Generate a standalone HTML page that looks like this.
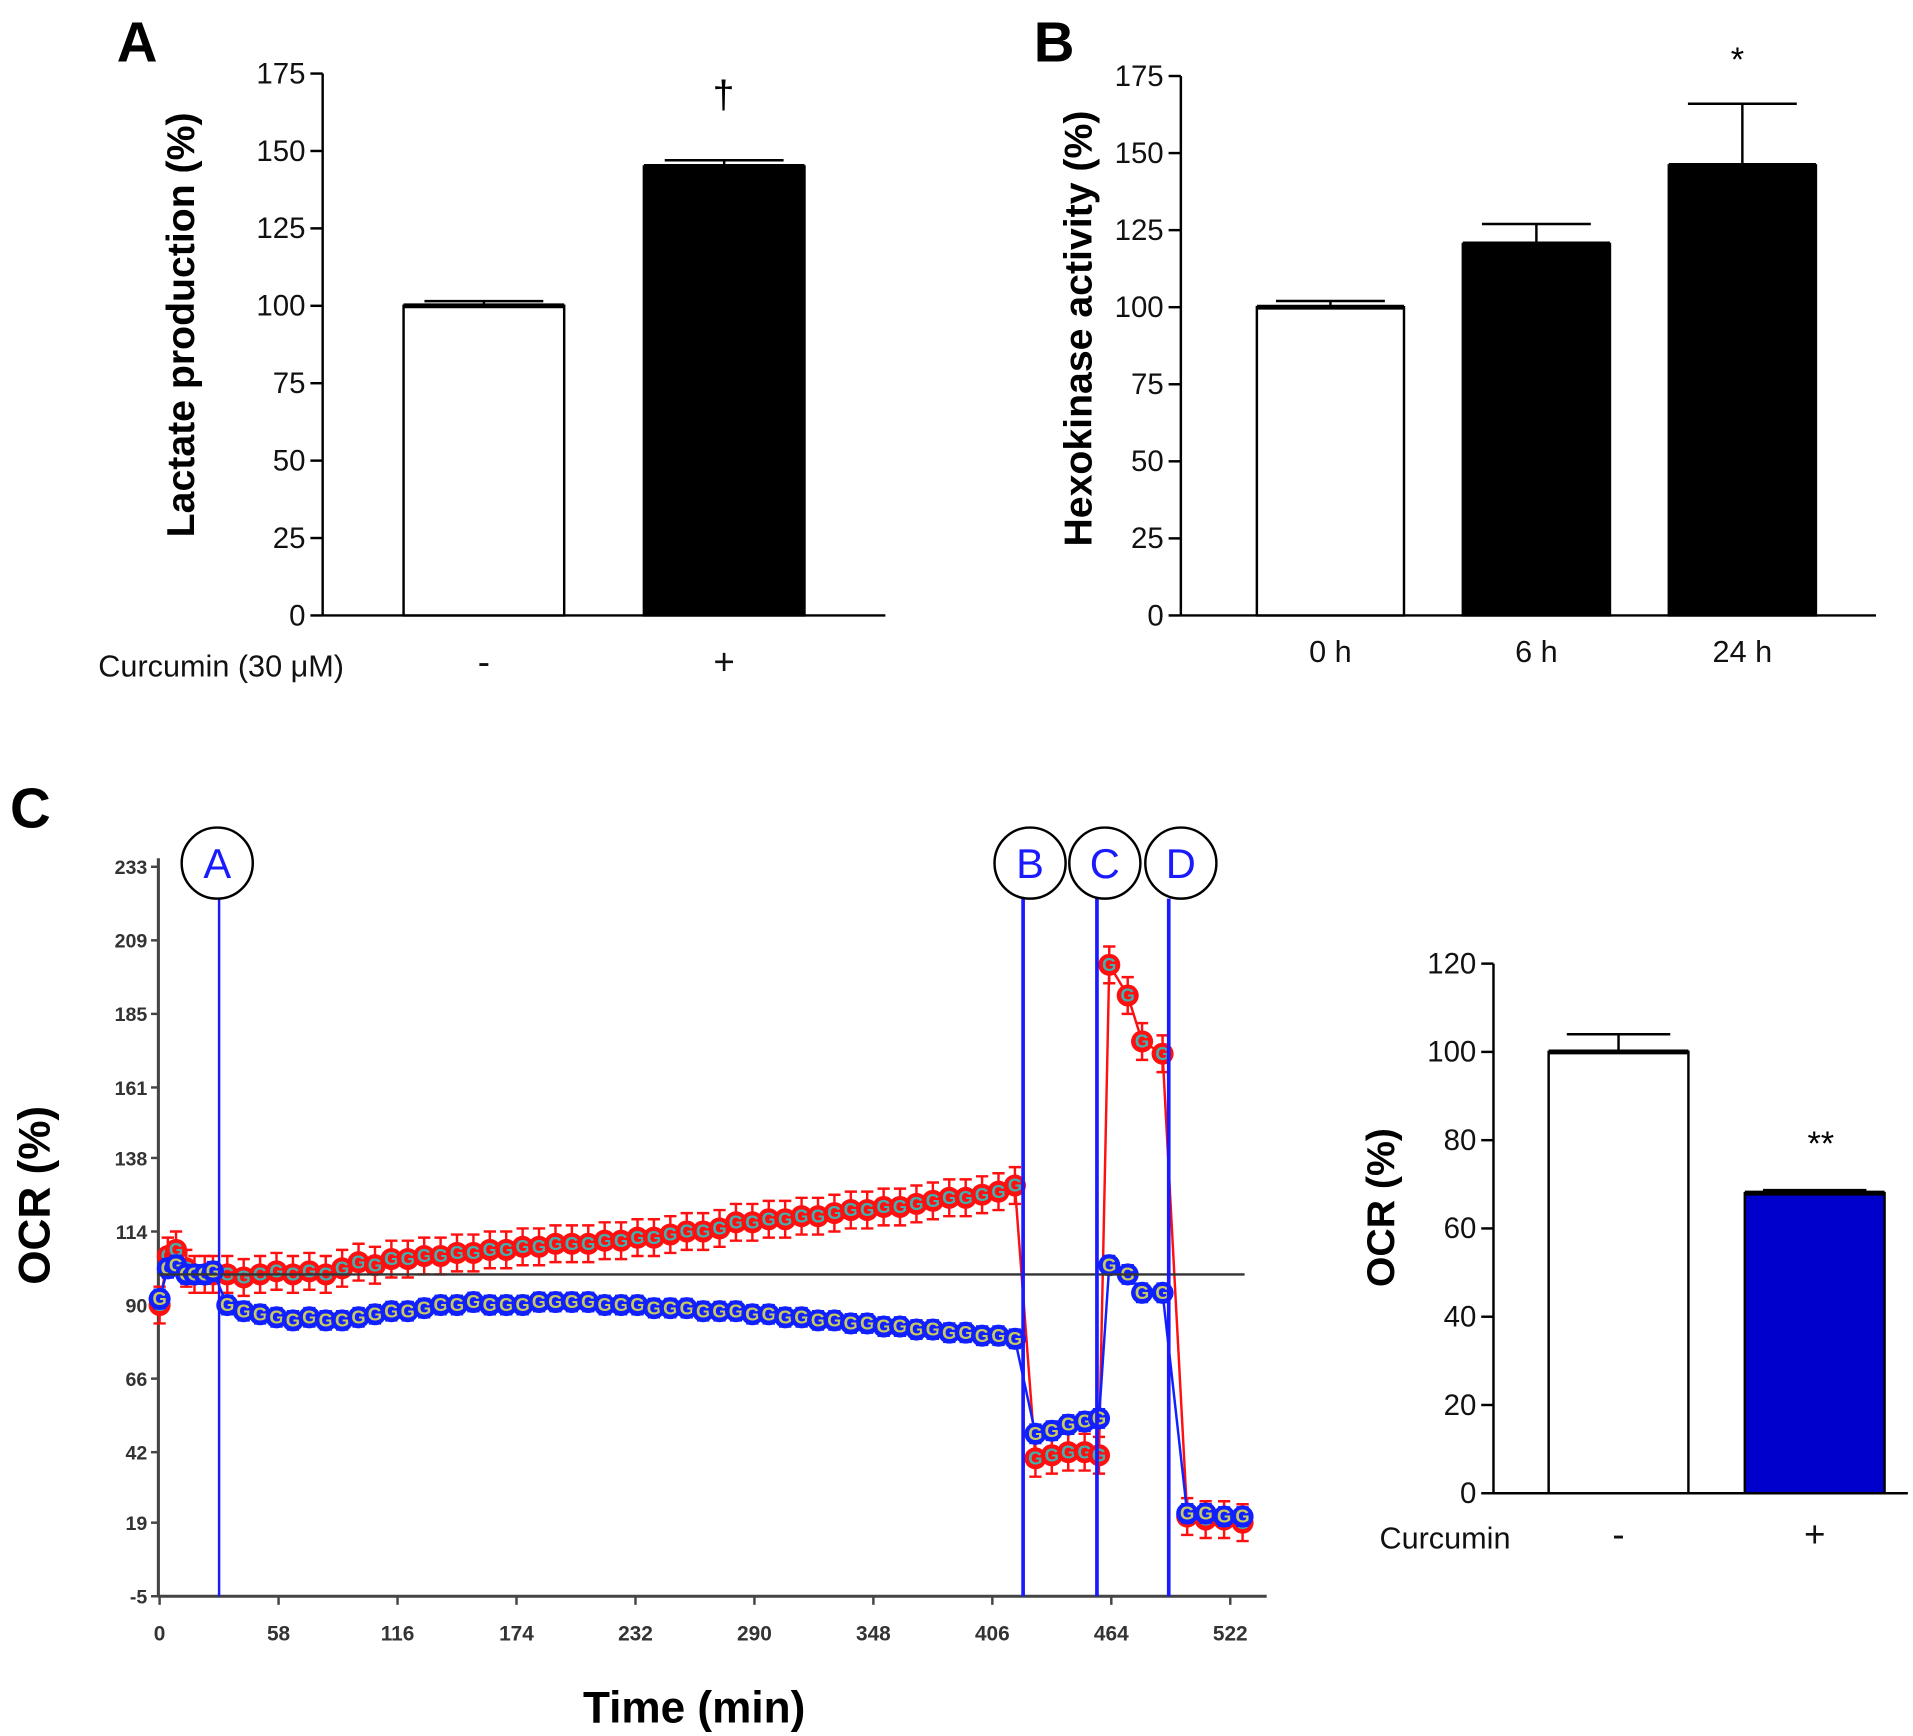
<!DOCTYPE html>
<html><head><meta charset="utf-8"><style>
html,body{margin:0;padding:0;background:#fff;}
svg{display:block;font-family:"Liberation Sans",sans-serif;}
</style></head><body>
<svg id="fig" width="1913" height="1736" viewBox="0 0 1560 1416" xmlns="http://www.w3.org/2000/svg">
<g id="pa"></g>
<g id="pb"></g>
<g id="pc"></g>
<g id="pd"></g>
</svg>
<script>
// Panel A
const aCats = ["-", "+"];
const aVals = [100, 145];
const aErr = [1.5, 2];
const aTicks = [0,25,50,75,100,125,150,175];
// Panel B
const bCats = ["0 h", "6 h", "24 h"];
const bVals = [100, 120.5, 146];
const bErr = [2, 6.5, 20];
const bTicks = [0,25,50,75,100,125,150,175];
// Panel C time course
const cTicksY = [-5,19,42,66,90,114,138,161,185,209,233];
const cTicksX = [0,58,116,174,232,290,348,406,464,522];
const cTime = [0,4,8,13,17,22,26,33,41,49,57,65,73,81,89,97,105,113,121,129,137,145,153,161,169,177,185,193,201,209,217,225,233,241,249,257,265,273,281,289,297,305,313,321,329,337,345,353,361,369,377,385,393,401,409,417,427,435,443,451,458,463,472,479,489,501,510,519,528];
const cRed = [90,106,108,102,100,100,100,100,99,100,101,100,101,100,102,104,103,105,105,106,106,107,107,108,108,109,109,110,110,110,111,111,112,112,113,114,114,115,117,117,118,118,119,119,120,121,121,122,122,123,124,125,125,126,127,129,40,41,42,42,41,201,191,176,172,21,20,20,19];
const cBlue = [92,102,103,100,100,100,101,90,88,87,86,85,86,85,85,86,87,88,88,89,90,90,91,90,90,90,91,91,91,91,90,90,90,89,89,89,88,88,88,87,87,86,86,85,85,84,84,83,83,82,82,81,81,80,80,79,48,49,51,52,53,103,100,94,94,22,22,21,21];
const cInjT = [29,421,457,492];
const cInjL = ["A","B","C","D"];
// Panel C bar
const dCats = ["-", "+"];
const dVals = [100, 68];
const dErr = [4, 0.7];
const dTicks = [0,20,40,60,80,100,120];

const NS="http://www.w3.org/2000/svg";
function mk(parent,tag,attrs,text){const e=document.createElementNS(NS,tag);for(const k in attrs)e.setAttribute(k,attrs[k]);if(text!==undefined)e.textContent=text;parent.appendChild(e);return e;}

function barPanel(g,o){
  const y=v=>o.y0-(v-0)*(o.y0-o.yTop)/o.vmax;
  let ax=mk(g,'line',{x1:o.ax,y1:o.yTop,x2:o.ax,y2:o.y0,stroke:'#000','stroke-width':2});
  
  
  let xx=mk(g,'line',{x1:o.ax,y1:o.y0,x2:o.axEnd,y2:o.y0,stroke:'#000','stroke-width':2});
  
  
  o.ticks.forEach(t=>{
    let l=mk(g,'line',{x1:o.ax-10,y1:y(t),x2:o.ax,y2:y(t),stroke:'#000','stroke-width':2});
    
    
    let tx=mk(g,'text',{x:o.ax-14,y:y(t)+8,'text-anchor':'end','font-size':o.fs,fill:'#111'},t);
    
    
  });
  o.vals.forEach((v,i)=>{
    const x0=o.barX[i];
    const cx=x0+o.bw/2;
    let e=mk(g,'line',{x1:cx,y1:y(v),x2:cx,y2:y(v+o.err[i]),stroke:'#000','stroke-width':2});
    
    
    let c=mk(g,'line',{x1:cx-o.bw*0.37,y1:y(v+o.err[i]),x2:cx+o.bw*0.37,y2:y(v+o.err[i]),stroke:'#000','stroke-width':2});
    
    
    let r=mk(g,'rect',{x:x0,y:y(v),width:o.bw,height:o.y0-y(v),fill:o.fills[i],stroke:'#000','stroke-width':2});
    
    
    let tl=mk(g,'line',{x1:x0,y1:y(v),x2:x0+o.bw,y2:y(v),stroke:'#000','stroke-width':4});
    
    
    let lab=mk(g,'text',{x:cx,y:o.catY,'text-anchor':'middle','font-size':o.catFs,fill:'#111'},o.cats[i]);
    
    
  });
  let tt=mk(g,'text',{x:0,y:0,transform:`translate(${o.titleX},${o.titleY}) rotate(-90)`,'text-anchor':'middle','font-size':o.titleFs,'font-weight':'bold',fill:'#000'},o.title);
  
  
  return y;
}

// Panel A
const pa=document.getElementById('pa');
barPanel(pa,{ax:263,axEnd:722,yTop:60,y0:502,vmax:175,ticks:aTicks,fs:24,vals:aVals,err:aErr,barX:[329,525],bw:131,fills:['#fff','#000'],cats:aCats,catY:550,catFs:30,title:'Lactate production (%)',titleX:158,titleY:265,titleFs:32});
let t;
t=mk(pa,'text',{x:95,y:50,'font-size':46,'font-weight':'bold'},'A');
t=mk(pa,'text',{x:590,y:88,'text-anchor':'middle','font-size':32},'†');
t=mk(pa,'text',{x:80,y:552,'font-size':25,fill:'#111'},'Curcumin (30 μM)');

// Panel B
const pb=document.getElementById('pb');
barPanel(pb,{ax:963,axEnd:1530,yTop:62,y0:502,vmax:175,ticks:bTicks,fs:24,vals:bVals,err:bErr,barX:[1025,1193,1361],bw:120,fills:['#fff','#000','#000'],cats:bCats,catY:540,catFs:25,title:'Hexokinase activity (%)',titleX:890,titleY:268,titleFs:32});
t=mk(pb,'text',{x:843,y:50,'font-size':46,'font-weight':'bold'},'B');
t=mk(pb,'text',{x:1417,y:58,'text-anchor':'middle','font-size':28},'*');

// Panel C time course
const pc=document.getElementById('pc');
const cx=v=>130+v*1.673;
const cy=v=>1302-(v+5)*(1302-707)/238;
t=mk(pc,'text',{x:8,y:675,'font-size':46,'font-weight':'bold'},'C');
let l=mk(pc,'line',{x1:129,y1:700,x2:129,y2:1303,stroke:'#444','stroke-width':2.5});
l=mk(pc,'line',{x1:129,y1:1302,x2:1033,y2:1302,stroke:'#444','stroke-width':2.5});
cTicksY.forEach(v=>{
  let a=mk(pc,'line',{x1:123,y1:cy(v),x2:129,y2:cy(v),stroke:'#444','stroke-width':2});
  let b=mk(pc,'text',{x:120,y:cy(v)+6,'text-anchor':'end','font-size':16,'font-weight':'bold',fill:'#333'},v);
});
cTicksX.forEach(v=>{
  let a=mk(pc,'line',{x1:cx(v),y1:1302,x2:cx(v),y2:1309,stroke:'#444','stroke-width':2});
  let b=mk(pc,'text',{x:cx(v),y:1338,'text-anchor':'middle','font-size':17,'font-weight':'bold',fill:'#333'},v);
});
t=mk(pc,'text',{x:0,y:0,transform:'translate(40,975) rotate(-90)','text-anchor':'middle','font-size':36,'font-weight':'bold'},'OCR (%)');
t=mk(pc,'text',{x:566,y:1405,'text-anchor':'middle','font-size':36,'font-weight':'bold'},'Time (min)');

function series(vals,color,gcol,errv,name){
  const g=mk(pc,'g',{});
  
  
  let d='';
  vals.forEach((v,i)=>{d+=(i?'L':'M')+cx(cTime[i]).toFixed(1)+' '+cy(v).toFixed(1);});
  mk(g,'path',{d:d,fill:'none',stroke:color,'stroke-width':2});
  vals.forEach((v,i)=>{
    const x=cx(cTime[i]);
    mk(g,'path',{d:`M${x} ${cy(v-errv)}V${cy(v+errv)}M${x-5} ${cy(v-errv)}h10M${x-5} ${cy(v+errv)}h10`,stroke:color,'stroke-width':2,fill:'none'});
  });
  vals.forEach((v,i)=>{
    const x=cx(cTime[i]);
    let m=mk(g,'circle',{cx:x,cy:cy(v),r:9,fill:color});
    
    
    mk(g,'text',{x:x,y:cy(v)+5,'text-anchor':'middle','font-size':15,'font-weight':'bold',fill:gcol},'G');
  });
}
series(cRed,'#ff1010','#40b0b0',6,'series-control');
series(cBlue,'#1020ff','#c8c860',3,'series-curcumin');
l=mk(pc,'line',{x1:129,y1:cy(100),x2:1015,y2:cy(100),stroke:'#333','stroke-width':2});
cInjT.forEach((v,i)=>{
  let a=mk(pc,'line',{x1:cx(v),y1:733,x2:cx(v),y2:1302,stroke:'#1a1aff','stroke-width':i?3:2});
  const ccx=[177,840,901,963][i];
  let c=mk(pc,'ellipse',{cx:ccx,cy:704,rx:29,ry:29,fill:'#fff',stroke:'#000','stroke-width':2});
  let tx=mk(pc,'text',{x:ccx,y:716,'text-anchor':'middle','font-size':34,fill:'#1a1aff'},cInjL[i]);
});

// Panel C bar
const pd=document.getElementById('pd');
barPanel(pd,{ax:1218,axEnd:1556,yTop:786,y0:1218,vmax:120,ticks:dTicks,fs:24,vals:dVals,err:dErr,barX:[1263,1423],bw:114,fills:['#fff','#0000cc'],cats:dCats,catY:1262,catFs:30,title:'OCR (%)',titleX:1137,titleY:985,titleFs:32});
t=mk(pd,'text',{x:1125,y:1263,'font-size':25,fill:'#111'},'Curcumin');
t=mk(pd,'text',{x:1485,y:942,'text-anchor':'middle','font-size':28},'**');
</script>
</body></html>
